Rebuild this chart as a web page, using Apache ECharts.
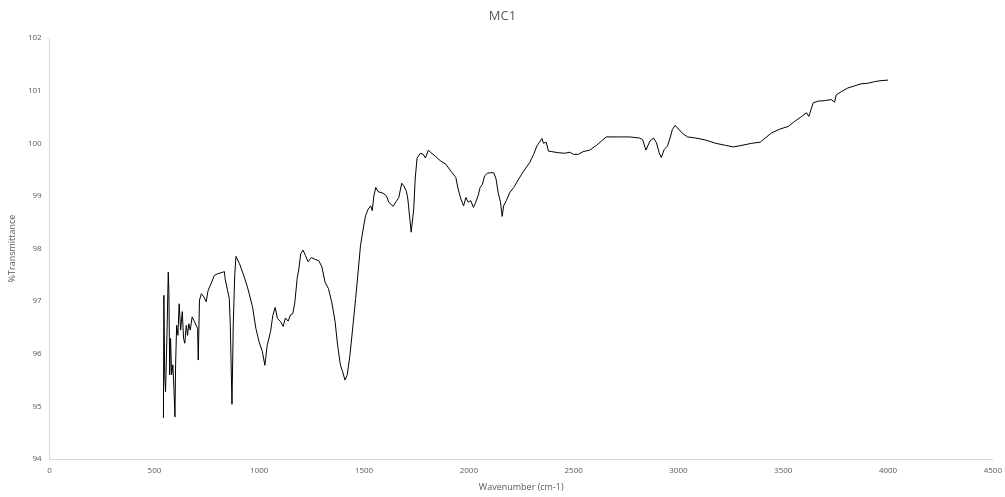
<!DOCTYPE html>
<html>
<head>
<meta charset="utf-8">
<title>MC1</title>
<script src="https://cdn.jsdelivr.net/npm/echarts@6/dist/echarts.min.js"></script>
<style>
  html, body { margin: 0; padding: 0; background: #fff; }
  #chart { width: 1005px; height: 497px; }
</style>
</head>
<body>
<div id="chart"></div>
<script>
// FTIR spectrum of sample MC1: wavenumber (cm-1) vs %Transmittance
const wavenumbers = [
  543, 545, 549, 553, 560, 566, 569, 573, 577, 582, 588, 593, 598, 601, 606, 612, 618, 625, 633, 639,
  645, 652, 658, 664, 671, 680, 691, 699, 706, 709, 715, 724, 736, 747, 756, 770, 786, 802, 818, 834,
  837, 849, 857, 862, 870, 876, 883, 889, 905, 925, 945, 968, 984, 999, 1015, 1027, 1038, 1054, 1065, 1076,
  1087, 1102, 1114, 1125, 1138, 1149, 1160, 1170, 1181, 1189, 1198, 1209, 1220, 1233, 1249, 1268, 1284, 1299, 1314, 1330,
  1346, 1362, 1374, 1387, 1397, 1409, 1420, 1433, 1449, 1460, 1473, 1483, 1496, 1507, 1520, 1532, 1539, 1547, 1556, 1567,
  1591, 1607, 1618, 1639, 1653, 1666, 1674, 1680, 1690, 1698, 1702, 1709, 1717, 1725, 1732, 1737, 1744, 1753, 1769, 1782,
  1793, 1807, 1819, 1839, 1851, 1867, 1891, 1914, 1938, 1949, 1962, 1975, 1986, 1997, 2009, 2022, 2033, 2044, 2054, 2065,
  2075, 2088, 2103, 2119, 2130, 2140, 2151, 2159, 2166, 2179, 2195, 2214, 2238, 2261, 2290, 2309, 2325, 2337, 2349, 2356,
  2369, 2380, 2396, 2428, 2458, 2482, 2498, 2522, 2545, 2577, 2609, 2632, 2656, 2703, 2767, 2813, 2829, 2845, 2864, 2881,
  2895, 2908, 2918, 2932, 2948, 2960, 2971, 2984, 3000, 3019, 3043, 3082, 3130, 3177, 3224, 3263, 3303, 3350, 3390, 3414,
  3445, 3485, 3524, 3556, 3588, 3611, 3622, 3643, 3667, 3697, 3729, 3745, 3753, 3777, 3808, 3840, 3871, 3903, 3935, 3966,
  4000
];
const transmittance = [
  94.78, 97.11, 95.60, 95.28, 96.39, 97.55, 97.18, 95.60, 96.29, 95.60, 95.79, 95.35, 94.80, 95.79, 96.54, 96.35, 96.95, 96.45, 96.80, 96.29,
  96.20, 96.54, 96.35, 96.57, 96.45, 96.70, 96.61, 96.61, 96.48, 95.88, 97.02, 97.14, 97.08, 96.99, 97.20, 97.33, 97.49, 97.52, 97.54, 97.56,
  97.43, 97.20, 97.05, 96.54, 95.04, 96.54, 97.49, 97.85, 97.72, 97.50, 97.25, 96.89, 96.48, 96.23, 96.04, 95.78, 96.16, 96.42, 96.73, 96.88,
  96.67, 96.61, 96.52, 96.68, 96.62, 96.74, 96.76, 96.98, 97.43, 97.61, 97.90, 97.97, 97.87, 97.75, 97.83, 97.79, 97.77, 97.65, 97.36, 97.24,
  96.98, 96.61, 96.16, 95.79, 95.67, 95.50, 95.60, 95.98, 96.61, 97.05, 97.61, 98.05, 98.37, 98.62, 98.75, 98.81, 98.72, 99.00, 99.16, 99.08,
  99.05, 99.00, 98.88, 98.80, 98.89, 98.97, 99.13, 99.24, 99.19, 99.20, 99.09, 98.94, 98.62, 98.31, 98.31, 98.75, 99.32, 99.72, 99.81, 99.79,
  99.72, 99.87, 99.82, 99.76, 99.71, 99.66, 99.60, 99.47, 99.35, 99.13, 98.94, 98.81, 98.97, 98.88, 98.91, 98.78, 98.88, 99.00, 99.16, 99.22,
  99.38, 99.43, 99.44, 99.44, 99.32, 99.06, 98.88, 98.61, 98.81, 98.91, 99.06, 99.16, 99.32, 99.47, 99.63, 99.79, 99.95, 100.02, 100.09, 100.00,
  100.02, 99.85, 99.84, 99.82, 99.81, 99.83, 99.79, 99.79, 99.84, 99.87, 99.96, 100.04, 100.12, 100.12, 100.12, 100.10, 100.07, 99.87, 100.04, 100.10,
  100.01, 99.82, 99.73, 99.88, 99.95, 100.10, 100.26, 100.34, 100.27, 100.19, 100.12, 100.10, 100.06, 100.00, 99.96, 99.93, 99.96, 100.00, 100.02, 100.10,
  100.20, 100.27, 100.32, 100.42, 100.51, 100.58, 100.51, 100.77, 100.80, 100.81, 100.83, 100.78, 100.92, 100.98, 101.05, 101.09, 101.13, 101.14, 101.17, 101.19,
  101.20
];
const xTicks = { min: 0, max: 4500, interval: 500 };
const yTicks = { min: 94, max: 102, interval: 1 };

const spectrum = wavenumbers.map((w, i) => [w, transmittance[i]]);

const labelColor = '#595959';
const fontFamily = '"Open Sans", "Liberation Sans", sans-serif';

const chart = echarts.init(document.getElementById('chart'), null, { renderer: 'canvas' });
chart.setOption({
  animation: false,
  backgroundColor: '#ffffff',
  title: {
    text: 'MC1',
    left: 'center',
    top: 5,
    textStyle: { color: labelColor, fontSize: 13, fontWeight: 'normal', fontFamily: fontFamily }
  },
  grid: { left: 46, right: 9, top: 38, bottom: 36, containLabel: false },
  xAxis: {
    type: 'value',
    min: xTicks.min,
    max: xTicks.max,
    interval: xTicks.interval,
    name: 'Wavenumber (cm-1)',
    nameLocation: 'middle',
    nameGap: 24,
    nameTextStyle: { color: labelColor, fontSize: 9, fontFamily: fontFamily },
    axisLine: { lineStyle: { color: '#d9d9d9', width: 1 } },
    axisTick: { show: false },
    splitLine: { show: false },
    axisLabel: { color: labelColor, fontSize: 8, margin: 8, fontFamily: fontFamily, formatter: v => String(v) }
  },
  yAxis: {
    type: 'value',
    min: yTicks.min,
    max: yTicks.max,
    interval: yTicks.interval,
    name: '%Transmittance',
    nameLocation: 'middle',
    nameGap: 28,
    nameRotate: 90,
    nameTextStyle: { color: labelColor, fontSize: 9, fontFamily: fontFamily },
    axisLine: { show: true, lineStyle: { color: '#d9d9d9', width: 1 } },
    axisTick: { show: false },
    splitLine: { show: false },
    axisLabel: { color: labelColor, fontSize: 8, margin: 8, fontFamily: fontFamily, formatter: v => String(v) }
  },
  series: [{
    type: 'line',
    data: spectrum,
    showSymbol: false,
    smooth: false,
    lineStyle: { color: '#000000', width: 1 }
  }]
});
</script>
</body>
</html>
